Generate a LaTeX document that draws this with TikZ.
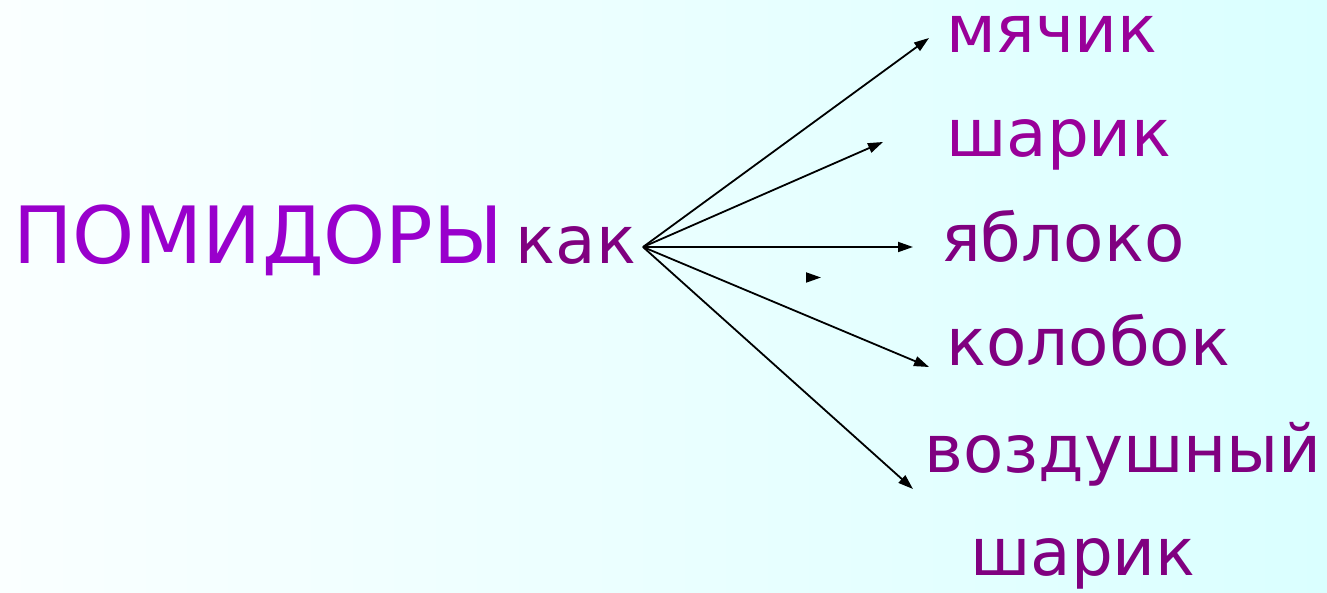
\documentclass[tikz,border=0pt]{standalone}
\usepackage{fontspec}
\setmainfont{DejaVu Sans}
\usetikzlibrary{arrows.meta, positioning}
\definecolor{bgleft}{RGB}{250,255,255}
\definecolor{bgright}{RGB}{218,255,255}
\definecolor{pomviolet}{RGB}{153,0,204}
\definecolor{wordplum}{RGB}{153,0,153}
\definecolor{wordpurple}{RGB}{128,0,128}

\begin{document}
\begin{tikzpicture}[x=1pt, y=-1pt, inner sep=0pt,
    bigword/.style={font=\fontsize{79}{79}\selectfont, text=pomviolet, anchor=base west},
    word/.style={font=\fontsize{66}{66}\selectfont, anchor=base west},
    ray/.style={-{Triangle[length=15pt,width=10pt]}, line width=1.8pt}]
        \shade[left color=bgleft, right color=bgright] (0,0) rectangle (1327,593);
        \useasboundingbox (0,0) rectangle (1327,593);
        \node[bigword] (pom) at (13,264) {ПОМИДОРЫ};
        \node[word, text=wordpurple, base right=12pt of pom] (kak) {как};
        \node[word, text=wordplum] (ball) at (946,53) {мячик};
        \node[word, text=wordplum] (sphere) at (946,157) {шарик};
        \node[word, text=wordpurple] (apple) at (941,262) {яблоко};
        \node[word, text=wordpurple] (kolobok) at (946,365) {колобок};
        \node[word, text=wordpurple] (air) at (924,472) {воздушный};
        \node[word, text=wordpurple] (balloon) at (970,575) {шарик};
        \coordinate (hub) at (643,247);
        \coordinate (toball) at (929,38);
        \coordinate (tosphere) at (883,142);
        \coordinate (toapple) at (913,247);
        \coordinate (tokolobok) at (929,367);
        \coordinate (toair) at (913,489);
        \coordinate (loose) at (806,277.5);
        \coordinate (loosetip) at (821,277.5);
        \draw[ray] (hub) -- (toball);
        \draw[ray] (hub) -- (tosphere);
        \draw[ray] (hub) -- (toapple);
        \draw[ray] (hub) -- (tokolobok);
        \draw[ray] (hub) -- (toair);
        \draw[ray] (loose) -- (loosetip);
    \end{tikzpicture}
\end{document}
